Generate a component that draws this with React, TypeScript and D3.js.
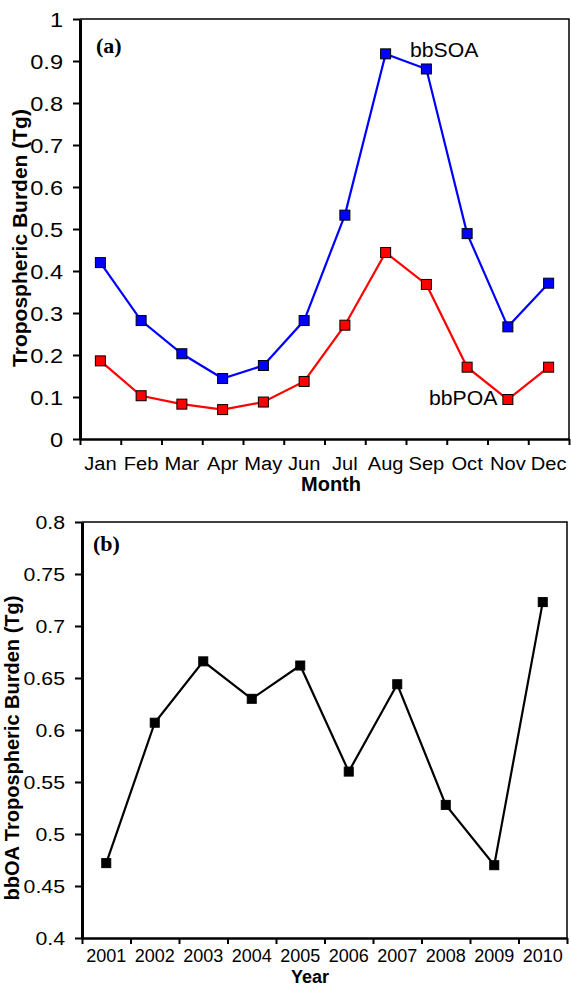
import React, { useRef, useEffect } from "react";
import * as d3 from "d3";

const months = ["Jan", "Feb", "Mar", "Apr", "May", "Jun", "Jul", "Aug", "Sep", "Oct", "Nov", "Dec"];
const bbSOA = [0.42, 0.282, 0.203, 0.144, 0.175, 0.282, 0.533, 0.917, 0.881, 0.489, 0.267, 0.371];
const bbPOA = [0.186, 0.103, 0.083, 0.07, 0.088, 0.137, 0.271, 0.444, 0.368, 0.171, 0.094, 0.171];
const ticksA = [0, 0.1, 0.2, 0.3, 0.4, 0.5, 0.6, 0.7, 0.8, 0.9, 1];

const years = ["2001", "2002", "2003", "2004", "2005", "2006", "2007", "2008", "2009", "2010"];
const bbOA = [0.472, 0.607, 0.666, 0.63, 0.662, 0.56, 0.644, 0.528, 0.47, 0.723];
const ticksB = [0.4, 0.45, 0.5, 0.55, 0.6, 0.65, 0.7, 0.75, 0.8];

const SANS = "'Liberation Sans', Arial, sans-serif";
const SERIF = "'Liberation Serif', 'Times New Roman', serif";

type Series = { values: number[]; fill: string; stroke: string; size: number };

interface PanelOpts {
  left: number;
  right: number;
  top: number;
  bottom: number;
  domain: [number, number];
  ticks: number[];
  cats: string[];
  series: Series[];
  tickFont: number;
  tickStretch: number;
  catFont: number;
  catStretch: number;
  catBaseline: number;
}

const drawPanel = (svg: d3.Selection<SVGSVGElement, unknown, null, undefined>, o: PanelOpts) => {
  const g = svg.append("g");
  const y = d3.scaleLinear().domain(o.domain).range([o.bottom, o.top]);
  const x = d3.scaleBand<string>().domain(o.cats).range([o.left, o.right]).padding(0);
  const edges = d3.scaleLinear().domain([0, o.cats.length]).range([o.left, o.right]);

  // frame (top + right)
  g.append("path")
    .attr("d", `M${o.left},${o.top}H${o.right}V${o.bottom}`)
    .attr("fill", "none")
    .attr("stroke", "#000")
    .attr("stroke-width", 1.5);

  const yAxis = g.append("g")
    .attr("transform", `translate(${o.left},0)`)
    .call(d3.axisLeft(y).tickValues(o.ticks).tickSize(7).tickSizeOuter(0).tickPadding(10)
      .tickFormat(d => String(+(+d).toFixed(2))));
  yAxis.select(".domain").attr("stroke-width", 3);
  yAxis.selectAll(".tick line").attr("stroke-width", 2);
  // the original labels run a bit wide, stretch them horizontally
  yAxis.selectAll(".tick text")
    .attr("font-family", SANS)
    .attr("font-size", o.tickFont)
    .attr("x", -17 / o.tickStretch)
    .attr("transform", `scale(${o.tickStretch},1)`)
    .attr("dy", "0.36em")
    .attr("fill", "#000");

  const xAxis = g.append("g")
    .attr("transform", `translate(0,${o.bottom})`)
    .call(d3.axisBottom(edges).tickValues(d3.range(0, o.cats.length + 1)).tickSize(6).tickSizeOuter(0).tickFormat(() => ""));
  xAxis.select(".domain").attr("stroke-width", 2.5);
  xAxis.selectAll(".tick line").attr("stroke-width", 2);

  g.append("g")
    .selectAll("text")
    .data(o.cats)
    .enter()
    .append("text")
    .attr("transform", d => `translate(${(x(d) as number) + x.bandwidth() / 2},${o.catBaseline}) scale(${o.catStretch},1)`)
    .attr("text-anchor", "middle")
    .attr("font-family", SANS)
    .attr("font-size", o.catFont)
    .text(d => d);

  const line = d3.line<number>()
    .x((_, i) => (x(o.cats[i]) as number) + x.bandwidth() / 2)
    .y(d => y(d));

  o.series.forEach(s => {
    g.append("path")
      .datum(s.values)
      .attr("fill", "none")
      .attr("stroke", s.stroke)
      .attr("stroke-width", 2.2)
      .attr("d", line);
    g.append("g")
      .selectAll("rect")
      .data(s.values)
      .enter()
      .append("rect")
      .attr("x", (_, i) => (x(o.cats[i]) as number) + x.bandwidth() / 2 - s.size / 2)
      .attr("y", d => y(d) - s.size / 2)
      .attr("width", s.size)
      .attr("height", s.size)
      .attr("fill", s.fill)
      .attr("stroke", "#000")
      .attr("stroke-width", 1);
  });

  return g;
};

const App: React.FC = () => {
  const svgRef = useRef<SVGSVGElement>(null);

  useEffect(() => {
    const svg = d3.select(svgRef.current!);
    svg.selectAll("*").remove();

    // panel (a)
    const a = drawPanel(svg, {
      left: 80, right: 569, top: 19, bottom: 439,
      domain: [0, 1], ticks: ticksA, cats: months,
      series: [
        { values: bbSOA, fill: "#0000ff", stroke: "#0000ff", size: 10 },
        { values: bbPOA, fill: "#ff0000", stroke: "#ff0000", size: 10 },
      ],
      tickFont: 20, tickStretch: 1.18, catFont: 19, catStretch: 1.06, catBaseline: 470,
    });
    a.append("text").attr("x", 96).attr("y", 53)
      .attr("font-family", SERIF).attr("font-weight", "bold").attr("font-size", 22).text("(a)");
    a.append("text").attr("transform", "translate(410,57) scale(1.06,1)")
      .attr("font-family", SANS).attr("font-size", 20).text("bbSOA");
    a.append("text").attr("transform", "translate(429,405) scale(1.06,1)")
      .attr("font-family", SANS).attr("font-size", 20).text("bbPOA");
    a.append("text").attr("x", 331).attr("y", 491).attr("text-anchor", "middle")
      .attr("font-family", SANS).attr("font-weight", "bold").attr("font-size", 20).text("Month");
    a.append("text").attr("transform", "translate(27,238) rotate(-90)").attr("text-anchor", "middle")
      .attr("font-family", SANS).attr("font-weight", "bold").attr("font-size", 21).text("Tropospheric Burden (Tg)");

    // panel (b)
    const b = drawPanel(svg, {
      left: 82, right: 567, top: 522, bottom: 938,
      domain: [0.4, 0.8], ticks: ticksB, cats: years,
      series: [{ values: bbOA, fill: "#000", stroke: "#000", size: 9 }],
      tickFont: 19, tickStretch: 1.12, catFont: 18, catStretch: 1.0, catBaseline: 962,
    });
    b.append("text").attr("x", 93).attr("y", 551)
      .attr("font-family", SERIF).attr("font-weight", "bold").attr("font-size", 22).text("(b)");
    b.append("text").attr("x", 310).attr("y", 983).attr("text-anchor", "middle")
      .attr("font-family", SANS).attr("font-weight", "bold").attr("font-size", 18).text("Year");
    b.append("text").attr("transform", "translate(19,748) rotate(-90)").attr("text-anchor", "middle")
      .attr("font-family", SANS).attr("font-weight", "bold").attr("font-size", 20).text("bbOA Tropospheric Burden (Tg)");
  }, []);

  return (
    <svg ref={svgRef} width={571} height={987}
      style={{ position: "absolute", left: 0, top: 0, background: "#fff" }} />
  );
};

export default App;
